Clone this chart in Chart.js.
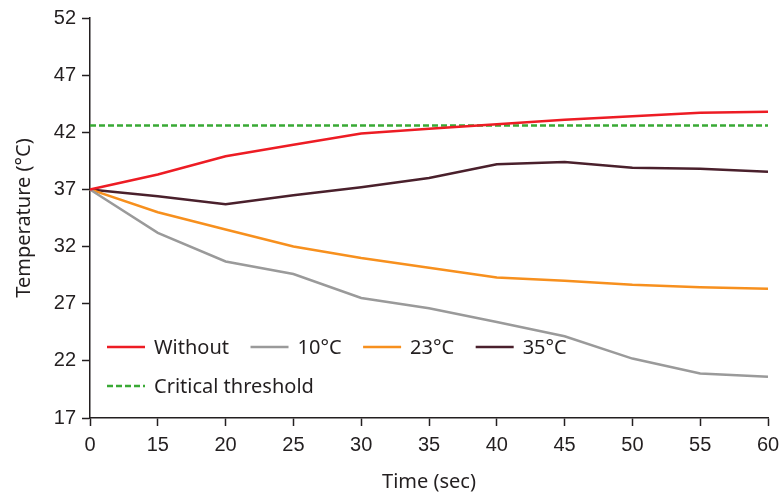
<!DOCTYPE html>
<html>
<head>
<meta charset="utf-8">
<script src="https://cdn.jsdelivr.net/npm/chart.js@4.4.1/dist/chart.umd.min.js"></script>
<style>
  html, body { margin: 0; padding: 0; background: #fff; }
</style>
</head>
<body>
<canvas id="myChart" width="783" height="495"></canvas>
<script>
// time points (sec) - category axis, evenly spaced
const timeLabels = ['0', '15', '20', '25', '30', '35', '40', '45', '50', '55', '60'];
const withoutTemp = [37, 38.3, 39.9, 40.9, 41.9, 42.3, 42.7, 43.1, 43.4, 43.7, 43.8];
const temp10 = [37, 33.2, 30.7, 29.6, 27.5, 26.6, 25.4, 24.15, 22.2, 20.9, 20.6];
const temp23 = [37, 35.0, 33.5, 32.0, 31.0, 30.15, 29.3, 29.0, 28.65, 28.45, 28.3];
const temp35 = [37, 36.4, 35.7, 36.5, 37.2, 38.0, 39.2, 39.4, 38.9, 38.8, 38.55];
const thresholdTemp = [42.6, 42.6, 42.6, 42.6, 42.6, 42.6, 42.6, 42.6, 42.6, 42.6, 42.6];
const seriesNames = ['Without', '10°C', '23°C', '35°C', 'Critical threshold'];
const yMin = 17, yMax = 52, yStep = 5;

const axisColor = '#231f20';
const titleFont = { family: '"Noto Sans"', size: 20 };
const tickFont = { family: '"Liberation Sans", Arial', size: 20 };

function line(label, data, color, dash) {
  return {
    label: label,
    data: data,
    borderColor: color,
    backgroundColor: color,
    borderWidth: 2.5,
    borderDash: dash || [],
    pointRadius: 0,
    tension: 0,
    fill: false
  };
}

// legend drawn inside the plot, two rows, like the original
const insideLegend = {
  id: 'insideLegend',
  afterDraw(chart) {
    const ctx = chart.ctx;
    const rows = [[0, 1, 2, 3], [4]];
    const rowY = [347, 386];
    ctx.save();
    ctx.font = '20px "Noto Sans"';
    ctx.textBaseline = 'middle';
    ctx.fillStyle = axisColor;
    rows.forEach((row, r) => {
      let x = 107;
      const y = rowY[r];
      row.forEach(i => {
        const ds = chart.data.datasets[i];
        ctx.strokeStyle = ds.borderColor;
        ctx.lineWidth = 2.5;
        ctx.setLineDash(ds.borderDash);
        ctx.beginPath();
        ctx.moveTo(x, y);
        ctx.lineTo(x + 38, y);
        ctx.stroke();
        ctx.setLineDash([]);
        ctx.fillText(ds.label, x + 47, y + 1);
        x += 47 + ctx.measureText(ds.label).width + 21.5;
      });
    });
    ctx.restore();
  }
};

const ctx = document.getElementById('myChart').getContext('2d');
const myChart = new Chart(ctx, {
  type: 'line',
  data: {
    labels: timeLabels,
    datasets: [
      line(seriesNames[0], withoutTemp, '#ed1c24'),
      line(seriesNames[1], temp10, '#9a9a9a'),
      line(seriesNames[2], temp23, '#f7901e'),
      line(seriesNames[3], temp35, '#4a202c'),
      line(seriesNames[4], thresholdTemp, '#39a935', [6, 3])
    ]
  },
  plugins: [insideLegend],
  options: {
    responsive: false,
    animation: false,
    layout: { padding: { top: 17, right: 15, bottom: 0, left: 0 } },
    plugins: {
      legend: { display: false },
      tooltip: { enabled: false }
    },
    scales: {
      x: {
        offset: false,
        border: { display: true, color: axisColor, width: 1.5 },
        grid: { display: true, drawOnChartArea: false, drawTicks: true, tickLength: 8, tickColor: axisColor, tickWidth: 1.5 },
        ticks: { color: axisColor, font: tickFont, padding: 7, maxRotation: 0, autoSkip: false },
        title: { display: true, text: 'Time (sec)', color: axisColor, font: titleFont, padding: { top: 0, bottom: 1 } },
        afterFit: (s) => { s.height = 77; s.paddingRight = 0; s.paddingLeft = 0; }
      },
      y: {
        min: yMin,
        max: yMax,
        border: { display: true, color: axisColor, width: 1.5 },
        grid: { display: true, drawOnChartArea: false, drawTicks: true, tickLength: 8, tickColor: axisColor, tickWidth: 1.5 },
        ticks: { stepSize: yStep, color: axisColor, font: tickFont, padding: 6 },
        title: { display: true, text: 'Temperature (°C)', color: axisColor, font: titleFont, padding: { top: 12, bottom: 0 } },
        afterFit: (s) => { s.width = 90; }
      }
    }
  }
});
</script>
</body>
</html>
